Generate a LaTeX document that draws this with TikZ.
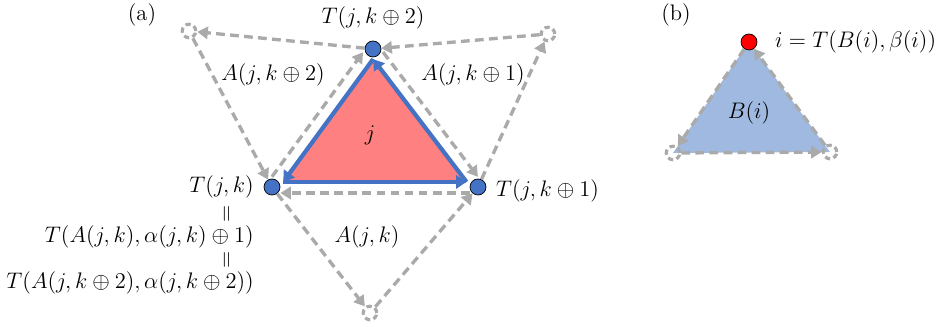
\RequirePackage{fix-cm}
\documentclass[tikz,border=0pt]{standalone}
\usepackage{amsmath}
\usetikzlibrary{arrows.meta,calc,positioning}
\definecolor{cellred}{RGB}{255,128,128}
\definecolor{edgeblue}{RGB}{68,114,196}
\definecolor{ghostgray}{RGB}{170,170,170}
\definecolor{bndblue}{RGB}{160,185,225}
\pgfdeclarelayer{bg}
\pgfsetlayers{bg,main}

\begin{document}
\begin{tikzpicture}[x=0.02cm,y=-0.02cm,
every node/.style={font=\fontsize{12.8}{15}\selectfont},
vtx/.style={circle,draw=black,thin,fill=edgeblue,inner sep=0pt,minimum size=0.32cm},
rootvtx/.style={vtx,fill=red},
ghost/.style={circle,draw=ghostgray,line width=1.8pt,dash pattern=on 3pt off 2pt,inner sep=0pt,minimum size=0.27cm},
dasharr/.style={draw=ghostgray,line width=1.9pt,dash pattern=on 5pt off 3pt,-{Triangle[length=6pt,width=7pt]}},
cycarr/.style={draw=edgeblue,line width=2.4pt,-{Triangle[length=6pt,width=7.5pt]}}]
\useasboundingbox (0,0) rectangle (936,327);

% (a): cell j and its three neighbours
\node[vtx] (T0) at (272,187) {};
\node[vtx] (T1) at (478,187) {};
\node[vtx] (T2) at (373,49) {};
\node[ghost] (C0) at (370,313) {};
\node[ghost] (C1) at (548,34) {};
\node[ghost] (C2) at (189,31) {};

\coordinate (G) at (374,141);
\coordinate (t0) at ($(G)!0.89!(T0.center)$);
\coordinate (t1) at ($(G)!0.89!(T1.center)$);
\coordinate (t2) at ($(G)!0.89!(T2.center)$);
\begin{pgfonlayer}{bg}
\fill[cellred] (t0) -- (t1) -- (t2) -- cycle;
\draw[cycarr] (t2) -- (t0);
\draw[cycarr] (t0) -- (t1);
\draw[cycarr] (t1) -- (t2);
\end{pgfonlayer}

\draw[dasharr,transform canvas={yshift=-0.12cm}] (T1) -- (T0);
\draw[dasharr,transform canvas={shift={(-0.1cm,0.07cm)}}] (T0) -- (T2);
\draw[dasharr,transform canvas={shift={(0.1cm,0.07cm)}}] (T2) -- (T1);
\draw[dasharr] (T2) -- (C2);
\draw[dasharr] (C2) -- (T0);
\draw[dasharr] (T1) -- (C1);
\draw[dasharr] (C1) -- (T2);
\draw[dasharr] (T0) -- (C0);
\draw[dasharr] (C0) -- (T1);

\node (labA) at (142,15) {(a)};
\node (cellj) at (370,135) {$j$};
\node (lT2) at (373,18) {$T(j,k\oplus 2)$};
\node (lA2) at (273,75) {$A(j,k\oplus 2)$};
\node (lA1) at (473,75) {$A(j,k\oplus 1)$};
\node (lA0) at (367,237) {$A(j,k)$};
\node[anchor=west] (lT1) at (490,191) {$T(j,k\oplus 1)$};
\node[anchor=east] (lT0) at (260,187) {$T(j,k)$};
\node[rotate=90] (eq1) at (228,214) {$=$};
\node[anchor=east] (lT0b) at (260,237) {$T(A(j,k),\alpha(j,k)\oplus 1)$};
\node[rotate=90] (eq2) at (228,260) {$=$};
\node[anchor=east] (lT0c) at (260,283) {$T(A(j,k\oplus 2),\alpha(j,k\oplus 2))$};

% (b): boundary cell B(i)
\node[rootvtx] (Bi) at (749,42) {};
\node[ghost] (BL) at (673,153) {};
\node[ghost] (BR) at (830,152) {};
\begin{pgfonlayer}{bg}
\fill[bndblue] (Bi.center) -- (BL.center) -- (BR.center) -- cycle;
\end{pgfonlayer}
\draw[dasharr] (Bi) -- (BL);
\draw[dasharr] (BL) -- (BR);
\draw[dasharr] (BR) -- (Bi);

\node (labB) at (676,15) {(b)};
\node (lBi) at (749,113) {$B(i)$};
\node[anchor=west] (lroot) at (769,42) {$i=T(B(i),\beta(i))$};
\end{tikzpicture}
\end{document}
